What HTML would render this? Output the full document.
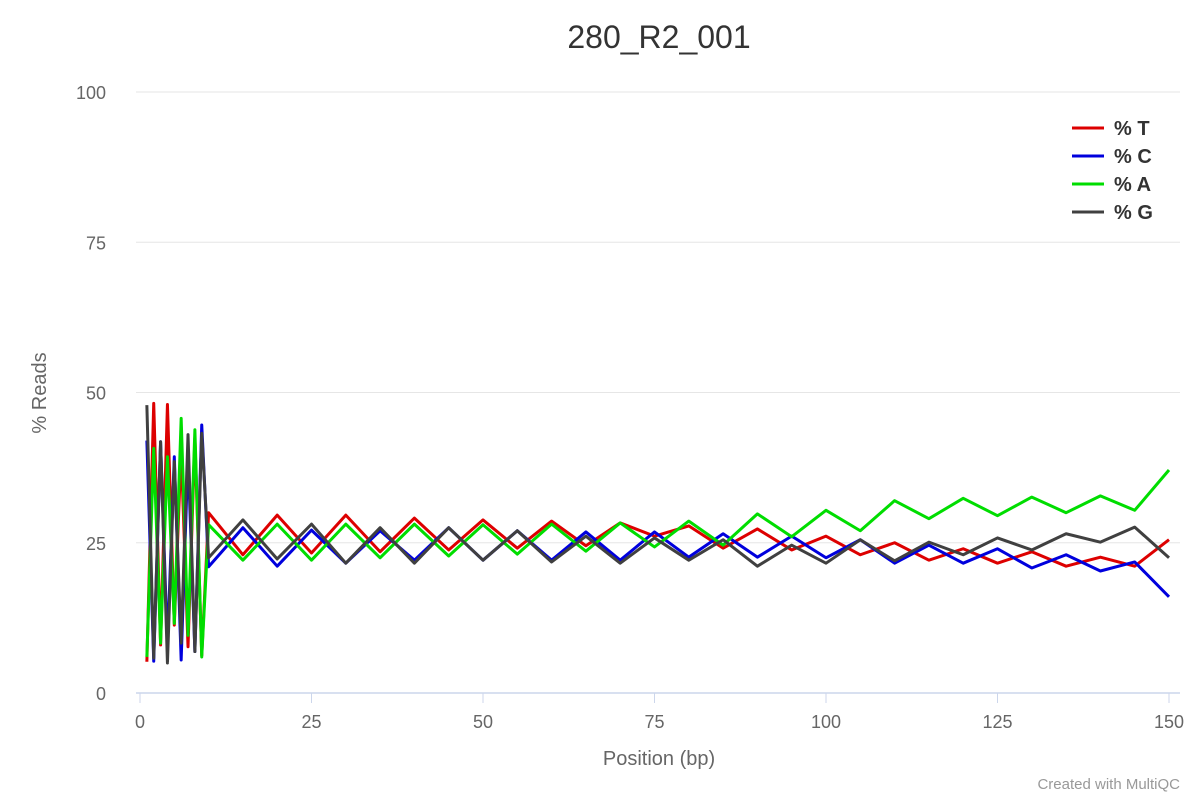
<!DOCTYPE html>
<html><head><meta charset="utf-8"><style>
body{margin:0;background:#fff;font-family:"Liberation Sans",Arial,sans-serif}
svg{display:block}
</style></head><body>
<svg id="chart" width="1200" height="800">
<text x="659" y="48" text-anchor="middle" font-size="32" fill="#333">280_R2_001</text>
<g id="grid"></g>
<g id="series"></g>
<text x="46" y="393" text-anchor="middle" font-size="20" fill="#666" transform="rotate(-90 46 393)">% Reads</text>
<text x="659" y="765" text-anchor="middle" font-size="20" fill="#666">Position (bp)</text>
<text x="1180" y="789" text-anchor="end" font-size="15" fill="#999">Created with MultiQC</text>
<g id="legend"></g>
</svg>
<script>
const positions=[1,2,3,4,5,6,7,8,9,10,15,20,25,30,35,40,45,50,55,60,65,70,75,80,85,90,95,100,105,110,115,120,125,130,135,140,145,150];
const seriesNames=["% T","% C","% A","% G"];
const seriesColors=["#dd0000","#0000dd","#00dd00","#404040"];
const valuesT=[5.2,48.2,8,48,11.3,40.5,7.7,42.4,6.2,30,23,29.6,23.3,29.6,23.5,29.1,23.8,28.8,24.1,28.6,24.5,28.3,26.1,27.8,24.1,27.3,23.8,26.1,23,25,22.1,24,21.6,23.5,21.1,22.6,21.1,25.5];
const valuesC=[42,5.3,41.8,7.7,39.3,5.5,39.7,6.9,44.6,21,27.5,21.1,27.1,21.6,27,22.1,27.5,22.1,27,22.1,26.8,22.1,26.8,22.6,26.5,22.6,26.1,22.5,25.5,21.6,24.6,21.6,24,20.8,23,20.3,21.8,16];
const valuesA=[6,40.7,8.3,39.3,11.6,45.7,9.6,43.8,6,28,22.1,28.1,22.1,28.1,22.5,28.1,22.8,28,23.1,28.1,23.6,28.3,24.3,28.6,24.6,29.8,26,30.4,27,32,29,32.4,29.5,32.6,30,32.8,30.4,37.1];
const valuesG=[47.9,5.8,41.8,5,38.5,8.3,43,6.9,43.2,22.5,28.8,22.3,28.1,21.6,27.5,21.6,27.5,22.1,27,21.8,26.1,21.6,25.8,22.1,25.5,21.1,24.6,21.6,25.5,22,25.1,23,25.8,23.8,26.5,25.1,27.6,22.5];
const yTicks=[0,25,50,75,100];
const xTicks=[0,25,50,75,100,125,150];
const NS="http://www.w3.org/2000/svg";
const xs=v=>140+v*(1169-140)/150;
const ys=v=>693-v*(693-92)/100;
const grid=document.getElementById('grid');
yTicks.forEach(t=>{
  const l=document.createElementNS(NS,'line');
  l.setAttribute('x1',136);l.setAttribute('x2',1180);l.setAttribute('y1',ys(t));l.setAttribute('y2',ys(t));
  l.setAttribute('stroke',t===0?'#ccd6eb':'#e6e6e6');l.setAttribute('stroke-width',t===0?1.5:1);
  
  
  grid.appendChild(l);
  const tx=document.createElementNS(NS,'text');
  tx.setAttribute('x',106);tx.setAttribute('y',ys(t)+7);tx.setAttribute('text-anchor','end');
  tx.setAttribute('font-size','18');tx.setAttribute('fill','#666');tx.textContent=t;
  
  
  grid.appendChild(tx);
});
xTicks.forEach(t=>{
  const l=document.createElementNS(NS,'line');
  l.setAttribute('x1',xs(t));l.setAttribute('x2',xs(t));l.setAttribute('y1',693);l.setAttribute('y2',703);
  l.setAttribute('stroke','#ccd6eb');
  
  
  grid.appendChild(l);
  const tx=document.createElementNS(NS,'text');
  tx.setAttribute('x',xs(t));tx.setAttribute('y',728);tx.setAttribute('text-anchor','middle');
  tx.setAttribute('font-size','18');tx.setAttribute('fill','#666');tx.textContent=t;
  
  
  grid.appendChild(tx);
});
const data=[valuesT,valuesC,valuesA,valuesG];
const sg=document.getElementById('series');
data.forEach((vals,i)=>{
  const p=document.createElementNS(NS,'polyline');
  p.setAttribute('points',vals.map((v,j)=>xs(positions[j])+','+ys(v)).join(' '));
  p.setAttribute('fill','none');p.setAttribute('stroke',seriesColors[i]);p.setAttribute('stroke-width',3);
  p.setAttribute('stroke-linejoin','round');
  
  
  sg.appendChild(p);
});
const lg=document.getElementById('legend');
seriesNames.forEach((n,i)=>{
  const y=128+i*28;
  const g=document.createElementNS(NS,'g');
  
  
  const l=document.createElementNS(NS,'line');
  l.setAttribute('x1',1072);l.setAttribute('x2',1104);l.setAttribute('y1',y);l.setAttribute('y2',y);
  l.setAttribute('stroke',seriesColors[i]);l.setAttribute('stroke-width',3);
  g.appendChild(l);
  const t=document.createElementNS(NS,'text');
  t.setAttribute('x',1114);t.setAttribute('y',y+7);t.setAttribute('font-size','20');t.setAttribute('font-weight','bold');t.setAttribute('fill','#333');
  t.textContent=n;
  g.appendChild(t);
  lg.appendChild(g);
});
</script>
</body></html>
